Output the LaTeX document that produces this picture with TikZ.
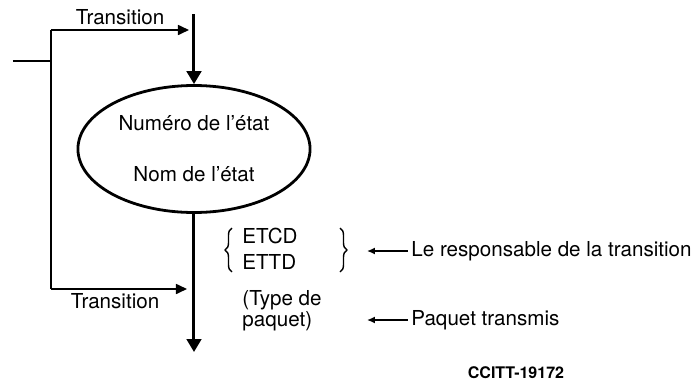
\documentclass[tikz,border=0pt]{standalone}
\usepackage{fontspec}
\setmainfont{TeX Gyre Heros}
\usetikzlibrary{shapes.geometric, arrows.meta, decorations.pathreplacing}
\tikzset{
    etat/.style={ellipse, draw=black, line width=1.4pt, minimum width=108pt, minimum height=63.5pt, align=center, font=\fontsize{10.3}{12}\selectfont},
    lbl/.style={inner sep=0pt, font=\fontsize{10.3}{12}\selectfont},
    flow/.style={-{Triangle[length=6.5pt, width=7.3pt]}, line width=1.5pt},
    branch/.style={-{Triangle[length=5.5pt, width=5pt]}, line width=0.8pt},
    trunk/.style={line width=0.8pt},
    pointer/.style={-{Latex[length=4pt, width=3.5pt]}, line width=0.7pt},
    accolade/.style={decorate, decoration={brace, amplitude=3.5pt}, line width=0.7pt},
}
\begin{document}
\begin{tikzpicture}[x=0.5pt, y=-0.5pt]
    \useasboundingbox (0,0) rectangle (693,381);
    \node[etat] (etat) at (194,149) {Numéro de l’état\\[13.5pt]Nom de l’état};
    \coordinate (entree) at (194,14);
    \coordinate (sortie) at (194,352);
    \coordinate (stub) at (13,61);
    \coordinate (jonction) at (51,61);
    \coordinate (haut) at (51,30);
    \coordinate (bas) at (51,289);
    \coordinate (hautfin) at (189,30);
    \coordinate (basfin) at (187,289);
    \draw[flow] (entree) -- (etat.north);
    \draw[flow] (etat.south) -- (sortie);
    \draw[trunk] (stub) -- (jonction);
    \draw[trunk] (haut) -- (bas);
    \draw[branch] (haut) -- (hautfin);
    \draw[branch] (bas) -- (basfin);
    \node[lbl] (tr1) at (120,17) {Transition};
    \node[lbl] (tr2) at (115,301) {Transition};
    \node[lbl, anchor=west] (etcd) at (242,236) {ETCD};
    \node[lbl, anchor=west] (ettd) at (242,262) {ETTD};
    \draw[accolade] (232,272) -- (232,228);
    \draw[accolade] (340,228) -- (340,272);
    \node[lbl, anchor=west, align=left, font=\fontsize{10.3}{10.5}\selectfont] (type) at (242,311) {(Type de\\paquet)};
    \node[lbl, anchor=west, inner sep=1.5pt] (resp) at (408,251) {Le responsable de la transition};
    \node[lbl, anchor=west, inner sep=1.5pt] (paquet) at (408,320) {Paquet transmis};
    \coordinate (resptip) at (367,251);
    \coordinate (paquettip) at (367,320);
    \draw[pointer] (resp.west) -- (resptip);
    \draw[pointer] (paquet.west) -- (paquettip);
    \node[lbl, font=\fontsize{8}{10}\selectfont\bfseries] (ref) at (516,373) {CCITT-19172};
\end{tikzpicture}
\end{document}
